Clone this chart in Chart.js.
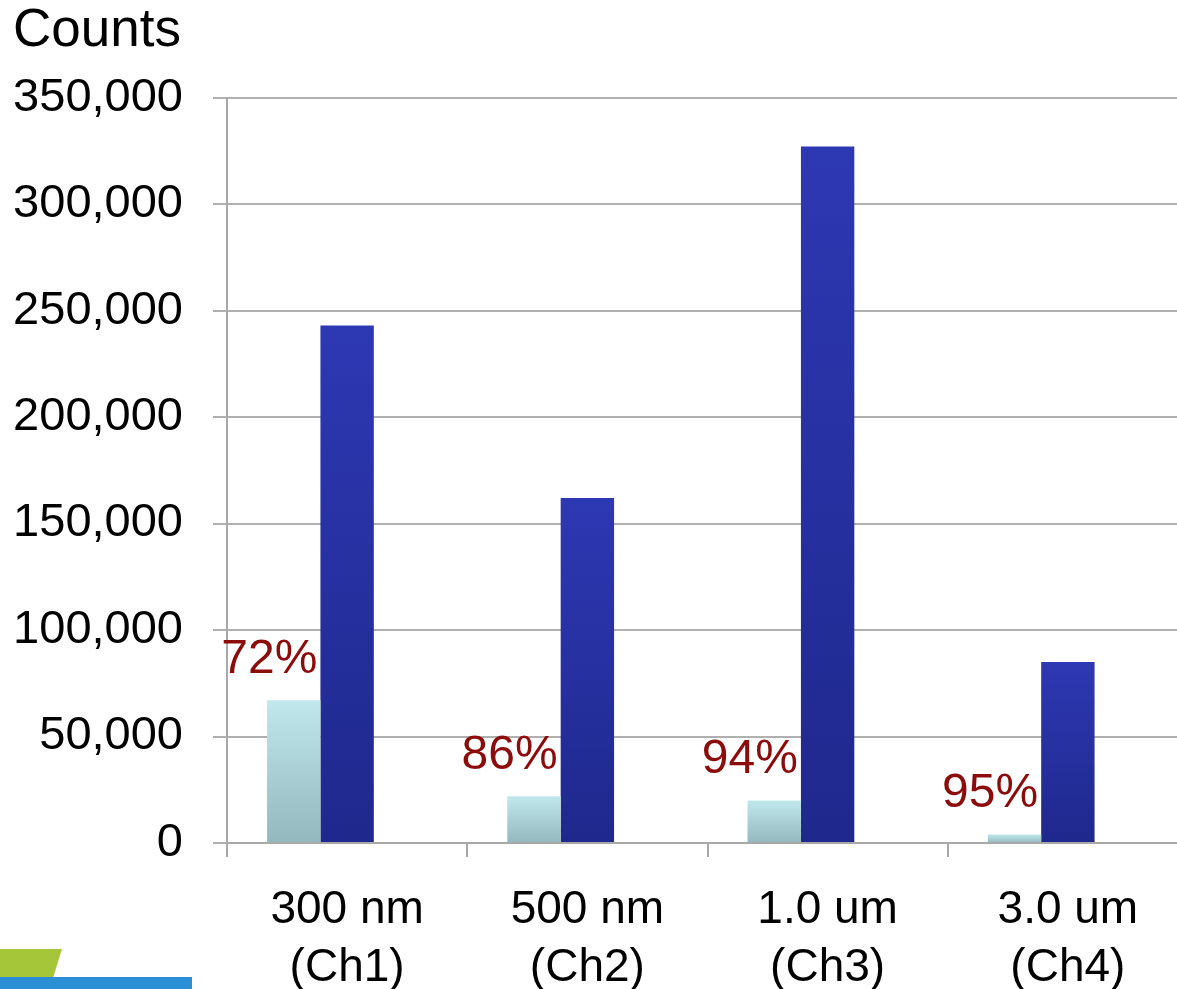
<!DOCTYPE html>
<html>
<head>
<meta charset="utf-8">
<script src="https://cdn.jsdelivr.net/npm/chart.js@4"></script>
<style>
  html, body { margin: 0; padding: 0; background: #fff; overflow: hidden; }
  #wrap { position: relative; width: 1177px; height: 989px; overflow: hidden; }
  #countsChart { position: absolute; left: 0; top: 0; }
  .logoGreen { position: absolute; left: 0; top: 949px; width: 62px; height: 28px; background: #a6c63a;
    clip-path: polygon(0 0, 100% 0, 86% 100%, 0 100%); }
  .logoBlue { position: absolute; left: 0; top: 977px; width: 192px; height: 12px; background: #2b8fd6; }
</style>
</head>
<body>
<div id="wrap">
  <canvas id="countsChart" width="1188" height="989"></canvas>
  <div class="logoGreen"></div>
  <div class="logoBlue"></div>
</div>
<script>
const channels = [["300 nm", "(Ch1)"], ["500 nm", "(Ch2)"], ["1.0 um", "(Ch3)"], ["3.0 um", "(Ch4)"]];
const countsAfter = [67000, 22000, 20000, 4000];
const countsBefore = [243000, 162000, 327000, 85000];
const emptySlot = [null, null, null, null];
const reductionLabels = ["72%", "86%", "94%", "95%"];

const fontFamily = "'Liberation Sans', Arial, sans-serif";

function barGradient(ctx, topColor, bottomColor) {
  const chart = ctx.chart;
  const area = chart.chartArea;
  if (!area || ctx.parsed == null || ctx.parsed.y == null) return topColor;
  const yTop = chart.scales.y.getPixelForValue(ctx.parsed.y);
  const yBottom = chart.scales.y.getPixelForValue(0);
  if (yBottom - yTop < 1) return topColor;
  const g = chart.ctx.createLinearGradient(0, yTop, 0, yBottom);
  g.addColorStop(0, topColor);
  g.addColorStop(1, bottomColor);
  return g;
}

// percentage text above the light bars
const reductionText = {
  id: "reductionText",
  afterDatasetsDraw(chart) {
    const meta = chart.getDatasetMeta(0);
    const ctx = chart.ctx;
    ctx.save();
    ctx.font = "48px " + fontFamily;
    ctx.fillStyle = "#8c0b0b";
    ctx.textAlign = "right";
    ctx.textBaseline = "alphabetic";
    meta.data.forEach(function (bar, i) {
      ctx.fillText(reductionLabels[i], bar.x + bar.width / 2 - 3, bar.y - 27);
    });
    ctx.restore();
  }
};

const dataCounts = {
  labels: channels,
  datasets: [
    {
      label: "after",
      data: countsAfter,
      backgroundColor: (c) => barGradient(c, "#c0e8ec", "#93b8bd"),
      borderWidth: 0,
    },
    {
      label: "before",
      data: countsBefore,
      backgroundColor: (c) => barGradient(c, "#2d38b3", "#1f288c"),
      borderWidth: 0,
    },
    {
      label: "",
      data: emptySlot,
      backgroundColor: "rgba(0,0,0,0)",
    },
  ],
};

const configCounts = {
  type: "bar",
  data: dataCounts,
  plugins: [reductionText],
  options: {
    responsive: false,
    animation: false,
    layout: { padding: { left: 13, right: 0, top: 0, bottom: 0 } },
    datasets: {
      bar: { categoryPercentage: 2 / 3, barPercentage: 1 },
    },
    plugins: {
      legend: { display: false },
      tooltip: { enabled: false },
      title: {
        display: true,
        text: "Counts",
        align: "start",
        color: "#000",
        font: { family: fontFamily, size: 53, weight: "normal" },
        padding: { top: 0, bottom: 34 },
      },
    },
    scales: {
      x: {
        afterFit: (scale) => { scale.height = 146; },
        grid: {
          display: true,
          drawOnChartArea: false,
          drawTicks: true,
          tickLength: 14,
          color: "#a8a8a8",
          lineWidth: 2,
        },
        border: { display: true, color: "#a8a8a8", width: 2 },
        ticks: {
          color: "#000",
          padding: 24,
          maxRotation: 0,
          font: { family: fontFamily, size: 46, lineHeight: 1.26 },
        },
      },
      y: {
        min: 0,
        max: 350000,
        afterFit: (scale) => { scale.width = 214; },
        ticks: {
          stepSize: 50000,
          color: "#000",
          padding: 30,
          font: { family: fontFamily, size: 47 },
          callback: (v) => v.toLocaleString("en-US"),
        },
        grid: { color: "#b0b0b0", lineWidth: 2, tickLength: 14 },
        border: { display: true, color: "#a8a8a8", width: 2 },
      },
    },
  },
};

new Chart(document.getElementById("countsChart"), configCounts);
</script>
</body>
</html>
